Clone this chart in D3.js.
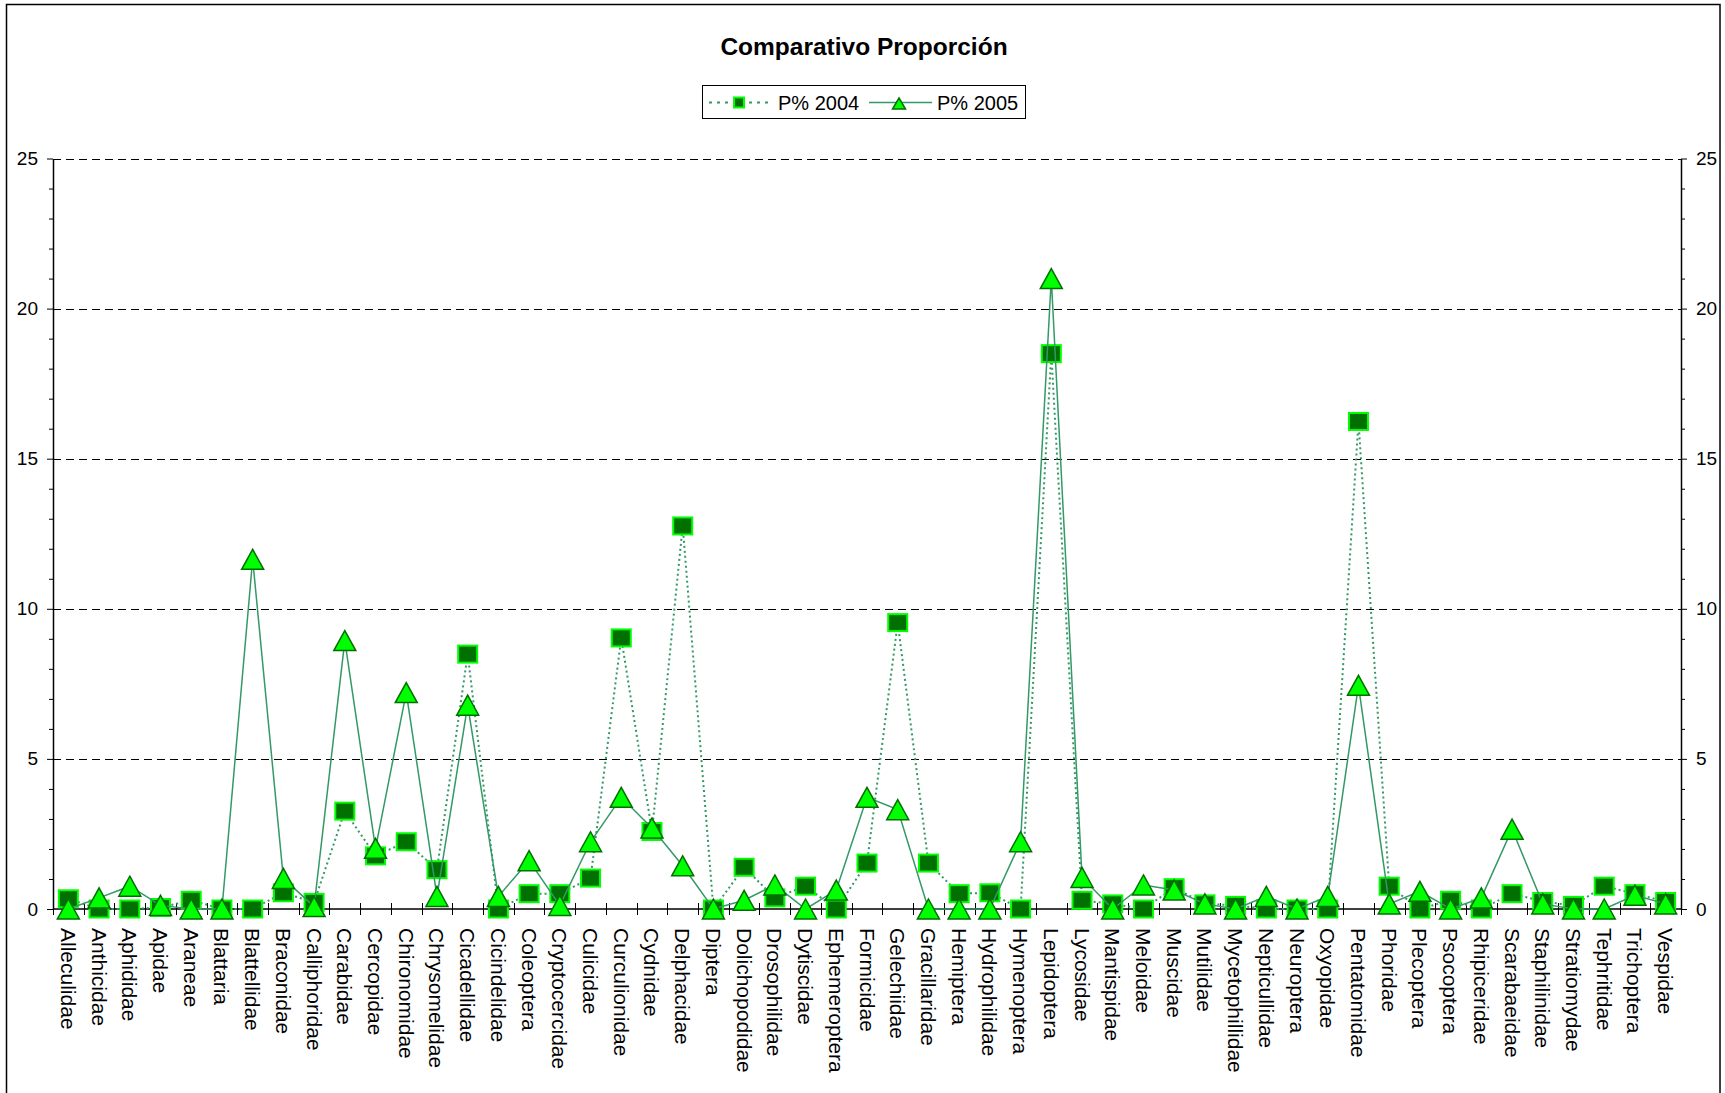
<!DOCTYPE html>
<html>
<head>
<meta charset="utf-8">
<script src="https://cdn.jsdelivr.net/npm/d3@7"></script>
<style>
  html, body { margin: 0; padding: 0; background: #ffffff; }
  svg { display: block; font-family: "Liberation Sans", Arial, sans-serif; }
</style>
</head>
<body>
<svg id="chart" width="1725" height="1093"></svg>
<script>
// Insect families (x categories)
const categories = [
  "Alleculidae", "Anthicidae", "Aphididae", "Apidae", "Araneae", "Blattaria",
  "Blattellidae", "Braconidae", "Calliphoridae", "Carabidae", "Cercopidae",
  "Chironomidae", "Chrysomelidae", "Cicadellidae", "Cicindelidae", "Coleoptera",
  "Cryptocercidae", "Culicidae", "Curculionidae", "Cydnidae", "Delphacidae",
  "Diptera", "Dolichopodidae", "Drosophilidae", "Dytiscidae", "Ephemeroptera",
  "Formicidae", "Gelechiidae", "Gracillaridae", "Hemiptera", "Hydrophilidae",
  "Hymenoptera", "Lepidoptera", "Lycosidae", "Mantispidae", "Meloidae",
  "Muscidae", "Mutilidae", "Mycetophillidae", "Nepticullidae", "Neuroptera",
  "Oxyopidae", "Pentatomidae", "Phoridae", "Plecoptera", "Psocoptera",
  "Rhipiceridae", "Scarabaeidae", "Staphilinidae", "Stratiomydae",
  "Tephritidae", "Trichoptera", "Vespidae"
];

// Proportion (%) per family, 2004
const p2004 = [
  0.34, 0, 0, 0.05, 0.29, 0, 0, 0.54, 0.22, 3.26, 1.77,
  2.24, 1.31, 8.49, 0, 0.51, 0.51, 1.03, 9.03, 2.58, 12.76,
  0, 1.39, 0.37, 0.76, 0, 1.53, 9.54, 1.53, 0.51, 0.54,
  0, 18.5, 0.29, 0.17, 0, 0.71, 0.17, 0.12, 0, 0,
  0, 16.24, 0.76, 0, 0.29, 0, 0.51, 0.25, 0.12, 0.76, 0.51, 0.25
];

// Proportion (%) per family, 2005
const p2005 = [
  0, 0.37, 0.76, 0.12, 0, 0, 11.65, 1.02, 0.08, 8.94, 2.02,
  7.21, 0.42, 6.79, 0.42, 1.61, 0.12, 2.24, 3.72, 2.70, 1.44,
  0, 0.29, 0.80, 0, 0.63, 3.72, 3.31, 0, 0, 0,
  2.24, 21.0, 1.05, 0, 0.80, 0.63, 0.17, 0, 0.42, 0,
  0.42, 7.45, 0.17, 0.59, 0, 0.37, 2.66, 0.17, 0, 0, 0.46, 0.17
];

const seriesNames = ["P% 2004", "P% 2005"];
const yMajorTicks = [0, 5, 10, 15, 20, 25];
const chartTitle = "Comparativo Proporción";

const svg = d3.select("#chart");
const lineColor = "#339966";
const squareFill = "#007000";
const squareStroke = "#00ff00";
const triFill = "#00ff00";
const triStroke = "#007000";

const plot = { left: 53, right: 1681, top: 158.5, bottom: 909 };

const x = d3.scaleBand().domain(categories).range([plot.left, plot.right]).padding(0);
const y = d3.scaleLinear().domain([0, 25]).range([plot.bottom, plot.top]);
const cx = c => x(c) + x.bandwidth() / 2;

// outer frame
svg.append("rect").attr("x", 0).attr("y", 0).attr("width", 1725).attr("height", 1093).attr("fill", "#fff");
svg.append("rect")
  .attr("x", 6.5).attr("y", 4.5).attr("width", 1713.5).attr("height", 1100)
  .attr("fill", "none").attr("stroke", "#000").attr("stroke-width", 1.5);

// title
svg.append("text")
  .attr("x", 864).attr("y", 55)
  .attr("text-anchor", "middle")
  .attr("font-weight", "bold").attr("font-size", 24.5)
  .text(chartTitle);

// horizontal dashed grid
svg.append("g").selectAll("line")
  .data(yMajorTicks.filter(v => v > 0))
  .join("line")
  .attr("x1", plot.left).attr("x2", plot.right)
  .attr("y1", d => Math.round(y(d)) + 0.5).attr("y2", d => Math.round(y(d)) + 0.5)
  .attr("stroke", "#000").attr("stroke-width", 1)
  .attr("stroke-dasharray", "8,5");

// left y axis
const leftAxis = d3.axisLeft(y).tickValues(yMajorTicks).tickSize(6).tickSizeOuter(0).tickFormat(d3.format("d"));
const gl = svg.append("g").attr("transform", `translate(${plot.left},0)`).call(leftAxis);
gl.select(".domain").attr("stroke", "#000").attr("stroke-width", 1.5);
gl.selectAll(".tick line").attr("stroke", "#000");
gl.selectAll(".tick text").attr("font-size", 19).attr("font-family", "Liberation Sans, Arial, sans-serif")
  .attr("fill", "#000").attr("x", -15);
const leftMinor = d3.axisLeft(y).tickValues(d3.range(0, 26).filter(v => v % 5 !== 0)).tickSize(4).tickFormat("");
const glm = svg.append("g").attr("transform", `translate(${plot.left},0)`).call(leftMinor);
glm.select(".domain").remove();

// right y axis
const rightAxis = d3.axisRight(y).tickValues(yMajorTicks).tickSize(6).tickSizeOuter(0).tickFormat(d3.format("d"));
const gr = svg.append("g").attr("transform", `translate(${plot.right},0)`).call(rightAxis);
gr.select(".domain").attr("stroke", "#000").attr("stroke-width", 1.5);
gr.selectAll(".tick text").attr("font-size", 19).attr("font-family", "Liberation Sans, Arial, sans-serif")
  .attr("fill", "#000").attr("x", 15);
const rightMinor = d3.axisRight(y).tickValues(d3.range(0, 26).filter(v => v % 5 !== 0)).tickSize(4).tickFormat("");
const grm = svg.append("g").attr("transform", `translate(${plot.right},0)`).call(rightMinor);
grm.select(".domain").remove();

// x axis line with cross ticks at category boundaries
const xAxisG = svg.append("g");
xAxisG.append("line")
  .attr("x1", plot.left).attr("x2", plot.right)
  .attr("y1", y(0)).attr("y2", y(0))
  .attr("stroke", "#000").attr("stroke-width", 1.5);
const boundaries = categories.map(c => x(c)).concat([x(categories[categories.length - 1]) + x.bandwidth()]);
xAxisG.selectAll("line.xt").data(boundaries).join("line")
  .attr("class", "xt")
  .attr("x1", d => Math.round(d) + 0.5).attr("x2", d => Math.round(d) + 0.5)
  .attr("y1", y(0) - 6).attr("y2", y(0) + 6)
  .attr("stroke", "#000").attr("stroke-width", 1);

// category labels, rotated to read downward
xAxisG.selectAll("text").data(categories).join("text")
  .attr("transform", d => `translate(${cx(d)},${y(0) + 19}) rotate(90)`)
  .attr("dominant-baseline", "central")
  .attr("font-size", 21)
  .attr("fill", "#000")
  .text(d => d);

// marker shapes
const triPath = (w, h) => `M0,${-h / 2}L${w / 2},${h / 2}L${-w / 2},${h / 2}Z`;

function drawSquare(g, px, py, w, h) {
  g.append("rect")
    .attr("x", px - w / 2).attr("y", py - h / 2)
    .attr("width", w).attr("height", h)
    .attr("fill", squareFill).attr("stroke", squareStroke).attr("stroke-width", 2);
}
function drawTriangle(g, px, py, w, h) {
  g.append("path")
    .attr("d", triPath(w, h))
    .attr("transform", `translate(${px},${py})`)
    .attr("fill", triFill).attr("stroke", triStroke).attr("stroke-width", 1.5);
}

const line = d3.line().x(d => cx(d.c)).y(d => y(d.v));
const data2004 = categories.map((c, i) => ({ c, v: p2004[i] }));
const data2005 = categories.map((c, i) => ({ c, v: p2005[i] }));

// 2004: dotted line with square markers
const s1 = svg.append("g");
s1.append("path").datum(data2004).attr("d", line)
  .attr("fill", "none").attr("stroke", lineColor).attr("stroke-width", 2)
  .attr("stroke-dasharray", "2,3");
data2004.forEach(d => drawSquare(s1, cx(d.c), y(d.v), 19, 17));

// 2005: solid line with triangle markers
const s2 = svg.append("g");
s2.append("path").datum(data2005).attr("d", line)
  .attr("fill", "none").attr("stroke", lineColor).attr("stroke-width", 1.5);
data2005.forEach(d => drawTriangle(s2, cx(d.c), y(d.v), 22, 20));

// legend
const lg = svg.append("g");
lg.append("rect").attr("x", 702.5).attr("y", 85.5).attr("width", 323).attr("height", 33)
  .attr("fill", "#fff").attr("stroke", "#000").attr("stroke-width", 1);
const ly = 102.5;
lg.append("line").attr("x1", 709).attr("x2", 769).attr("y1", ly).attr("y2", ly)
  .attr("stroke", lineColor).attr("stroke-width", 2).attr("stroke-dasharray", "3,5");
drawSquare(lg, 739, ly, 10, 10);
lg.append("text").attr("x", 778).attr("y", ly + 7).attr("font-size", 20).text(seriesNames[0]);
lg.append("line").attr("x1", 869).attr("x2", 932).attr("y1", ly).attr("y2", ly)
  .attr("stroke", lineColor).attr("stroke-width", 1.5);
drawTriangle(lg, 899, ly + 1, 13, 11);
lg.append("text").attr("x", 937).attr("y", ly + 7).attr("font-size", 20).text(seriesNames[1]);
</script>
</body>
</html>
